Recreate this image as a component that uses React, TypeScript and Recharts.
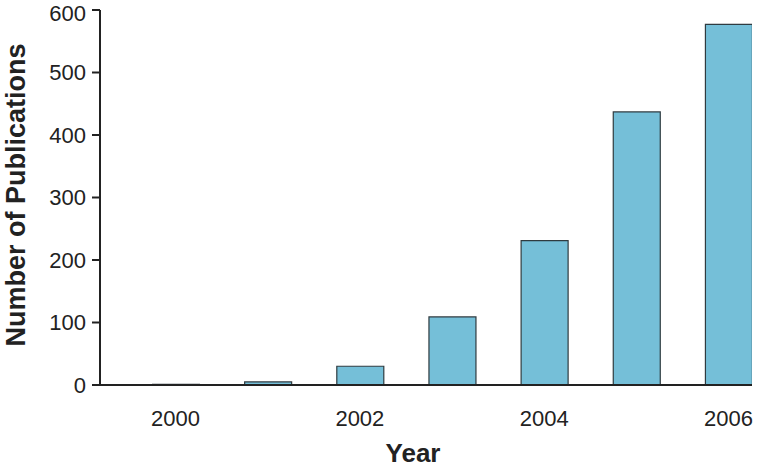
import React from 'react';
import { BarChart, Bar, XAxis, YAxis } from 'recharts';

const years = [2000, 2001, 2002, 2003, 2004, 2005, 2006];
const publications = [1, 5, 30, 109, 231, 437, 577];
const xTicks = [2000, 2002, 2004, 2006];
const yTicks = [0, 100, 200, 300, 400, 500, 600];

const data = years.map((year, i) => ({ year, count: publications[i] }));

const FONT = '"Liberation Sans", Arial, Helvetica, sans-serif';

export default function App() {
  return (
    <div style={{ position: 'absolute', left: 0, top: 0, background: '#fff' }}>
      <BarChart
        width={762}
        height={467}
        data={data}
        margin={{ top: 10, right: 10, bottom: 0, left: 0 }}
      >
        <XAxis
          dataKey="year"
          type="number"
          domain={[1999.18, 2006.255]}
          ticks={xTicks}
          allowDataOverflow
          height={82}
          tickLine={false}
          tickSize={0}
          tickMargin={25}
          axisLine={{ stroke: '#222', strokeWidth: 2 }}
          tick={{ fill: '#222', fontSize: 22, fontFamily: FONT }}
          label={{
            content: () => (
              <text
                x={413}
                y={462}
                textAnchor="middle"
                fontFamily={FONT}
                fontWeight="bold"
                fontSize={26}
                fill="#222"
              >
                Year
              </text>
            ),
          }}
        />
        <YAxis
          domain={[0, 600]}
          ticks={yTicks}
          width={100}
          tickSize={8}
          tickMargin={6}
          tickLine={{ stroke: '#222', strokeWidth: 2 }}
          axisLine={{ stroke: '#222', strokeWidth: 2 }}
          tick={{ fill: '#222', fontSize: 22, fontFamily: FONT }}
          label={{
            content: () => (
              <text
                x={25}
                y={195}
                transform="rotate(-90 25 195)"
                textAnchor="middle"
                fontFamily={FONT}
                fontWeight="bold"
                fontSize={27}
                fill="#222"
              >
                Number of Publications
              </text>
            ),
          }}
        />
        <Bar
          dataKey="count"
          barSize={47}
          fill="#75BFD8"
          stroke="#2f3b40"
          strokeWidth={1.2}
          isAnimationActive={false}
        />
      </BarChart>
    </div>
  );
}
